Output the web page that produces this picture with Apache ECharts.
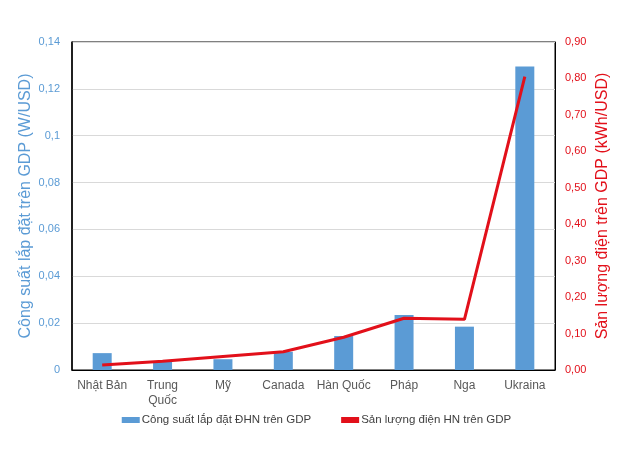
<!DOCTYPE html>
<html><head><meta charset="utf-8">
<script src="https://cdn.jsdelivr.net/npm/echarts@6/dist/echarts.min.js"></script>
<style>html,body{margin:0;padding:0;background:#fff}#c{width:633px;height:451px}</style>
</head><body><div id="c"></div>
<script>
const categories = ['Nhật Bản', 'Trung\nQuốc', 'Mỹ', 'Canada', 'Hàn Quốc', 'Pháp', 'Nga', 'Ukraina'];
const capacityPerGDP = [0.0072, 0.0038, 0.0046, 0.0078, 0.0145, 0.0235, 0.0185, 0.1295];
const outputPerGDP = [0.014, 0.024, 0.037, 0.05, 0.09, 0.142, 0.139, 0.805];
const seriesNames = ['Công suất lắp đặt ĐHN trên GDP', 'Sản lượng điện HN trên GDP'];
const leftTitle = 'Công suất lắp đặt trên GDP (W/USD)';
const rightTitle = 'Sản lượng điện trên GDP (kWh/USD)';

const blue = '#5b9bd5', red = '#e2101a';
const font = 'Liberation Sans, Arial, sans-serif';
const chart = echarts.init(document.getElementById('c'));
chart.setOption({
  animation: false,
  textStyle: { fontFamily: font },
  grid: { left: 72, right: 78, top: 42, bottom: 81, show: true, borderColor: '#000', borderWidth: 1 },
  legend: {
    bottom: 20, left: 'center', itemGap: 30, itemWidth: 18, itemHeight: 6,
    textStyle: { color: '#404040', fontSize: 11.5, fontFamily: font, padding: [0, 0, 0, -3] },
    data: [{ name: seriesNames[0], icon: 'rect' }, { name: seriesNames[1], icon: 'rect', itemStyle: { color: red } }]
  },
  xAxis: {
    type: 'category', data: categories,
    axisLine: { lineStyle: { color: '#000', width: 1 } },
    axisTick: { show: false },
    axisLabel: { color: '#595959', fontSize: 12, margin: 8, lineHeight: 15, interval: 0 }
  },
  yAxis: [{
    type: 'value', min: 0, max: 0.14, interval: 0.02,
    name: leftTitle, nameLocation: 'middle', nameGap: 38, nameRotate: 90, nameMoveOverlap: false,
    nameTextStyle: { color: blue, fontSize: 16, fontFamily: font },
    axisLine: { show: true, lineStyle: { color: '#000', width: 1.5 } },
    axisTick: { show: false },
    splitLine: { lineStyle: { color: '#d9d9d9' } },
    axisLabel: { color: blue, fontSize: 11, margin: 12,
      formatter: v => v === 0 ? '0' : String(parseFloat(v.toFixed(2))).replace('.', ',') }
  }, {
    type: 'value', min: 0, max: 0.9, interval: 0.1,
    name: rightTitle, nameLocation: 'middle', nameGap: 40, nameRotate: 90, nameMoveOverlap: false,
    nameTextStyle: { color: red, fontSize: 16, fontFamily: font },
    axisLine: { show: true, lineStyle: { color: '#000', width: 1 } },
    axisTick: { show: false },
    splitLine: { show: false },
    axisLabel: { color: red, fontSize: 11, margin: 10,
      formatter: v => v.toFixed(2).replace('.', ',') }
  }],
  series: [{
    name: seriesNames[0], type: 'bar', data: capacityPerGDP, barWidth: 19,
    itemStyle: { color: blue }
  }, {
    name: seriesNames[1], type: 'line', yAxisIndex: 1, data: outputPerGDP,
    symbol: 'none', lineStyle: { color: red, width: 3 }, itemStyle: { color: red }
  }]
});
</script></body></html>
